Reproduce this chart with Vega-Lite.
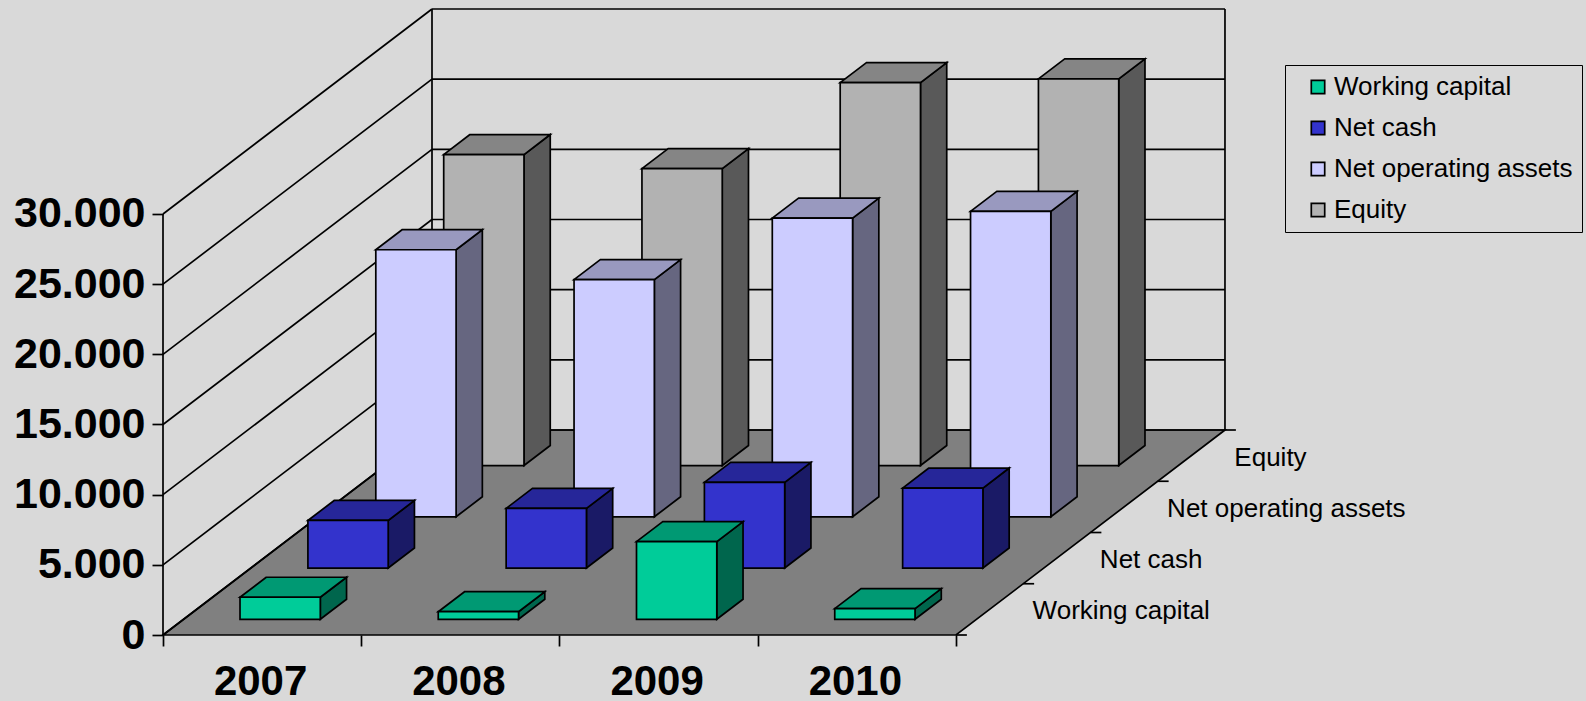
{"$schema":"https://vega.github.io/schema/vega-lite/v6.json","autosize":"none","width":1423,"height":635,"padding":{"left":163,"top":0,"right":0,"bottom":66},"background":"#d9d9d9","config":{"view":{"stroke":null},"font":"Liberation Sans"},
"datasets":{"levels":[{"level":0},{"level":5000},{"level":10000},{"level":15000},{"level":20000},{"level":25000},{"level":30000}],"depths":[{"d":0},{"d":0.25},{"d":0.5},{"d":0.75},{"d":1}],"corners":[{"u":0},{"u":4}]},
"data":{"values":[
{"year":2007,"series":"Working capital","value":1570},{"year":2008,"series":"Working capital","value":540},{"year":2009,"series":"Working capital","value":5530},{"year":2010,"series":"Working capital","value":760},
{"year":2007,"series":"Net cash","value":3390},{"year":2008,"series":"Net cash","value":4250},{"year":2009,"series":"Net cash","value":6100},{"year":2010,"series":"Net cash","value":5700},
{"year":2007,"series":"Net operating assets","value":19030},{"year":2008,"series":"Net operating assets","value":16900},{"year":2009,"series":"Net operating assets","value":21280},{"year":2010,"series":"Net operating assets","value":21760},
{"year":2007,"series":"Equity","value":22160},{"year":2008,"series":"Equity","value":21160},{"year":2009,"series":"Equity","value":27290},{"year":2010,"series":"Equity","value":27550}]},
"transform":[
{"calculate":"indexof(['Working capital','Net cash','Net operating assets','Equity'],datum.series)","as":"i"},
{"calculate":"datum.i*0.25+0.0766","as":"d0"},
{"calculate":"datum.year-2007+0.2835+datum.d0*1.37","as":"fx0"},
{"calculate":"datum.fx0+0.405","as":"fx1"},
{"calculate":"datum.d0*14607","as":"base"},
{"calculate":"datum.base+datum.value","as":"top"},
{"calculate":"0.0976*1.3569","as":"sx"},
{"calculate":"0.0976*14607","as":"sy"}],
"encoding":{
"x":{"field":"X","type":"quantitative","scale":{"domain":[0,7.178],"nice":false,"zero":false},"axis":{"title":null,"domain":false,"grid":false,"values":[0,0.5,1,1.5,2,2.5,3,3.5,4],"tickSize":11,"tickWidth":1.7,"tickColor":"#000","tickOpacity":{"condition":{"test":"datum.value % 1 == 0","value":1},"value":0},"labelExpr":"datum.value % 1 == 0.5 ? toString(2007+floor(datum.value)) : ''","labelFont":"Liberation Sans","labelFontSize":42,"labelFontWeight":"bold","labelColor":"#000","labelPadding":15,"labelOffset":-2,"labelOverlap":false,"labelFlush":false,"labelBound":false}},
"y":{"field":"Y","type":"quantitative","scale":{"domain":[0,45247],"nice":false,"zero":false},"axis":{"title":null,"domain":false,"grid":false,"values":[0,5000,10000,15000,20000,25000,30000],"tickSize":11,"tickWidth":1.7,"tickColor":"#000","labelExpr":"replace(format(datum.value,','),',','.')","labelFont":"Liberation Sans","labelFontSize":43,"labelFontWeight":"bold","labelColor":"#000","labelPadding":7,"labelOverlap":false,"labelFlush":false,"labelBound":false}}},
"layer":[
{"data":{"name":"corners"},"transform":[{"calculate":"[0,1]","as":"d"},{"flatten":["d"]},{"calculate":"datum.d*1.3569","as":"X"},{"calculate":"datum.X+4","as":"X2"},{"calculate":"datum.d*14607","as":"Y"},{"filter":"datum.u==0"}],"mark":{"type":"area","orient":"horizontal","fill":"#808080","stroke":"#000","strokeWidth":1.7},"encoding":{"x2":{"field":"X2"}}},
{"data":{"name":"levels"},"transform":[{"calculate":"0","as":"X"},{"calculate":"1.3569","as":"X2"},{"calculate":"datum.level","as":"Y"},{"calculate":"datum.level+14607","as":"Y2"}],"mark":{"type":"rule","stroke":"#000","strokeWidth":1.7},"encoding":{"x2":{"field":"X2"},"y2":{"field":"Y2"}}},
{"data":{"name":"levels"},"transform":[{"calculate":"1.3569","as":"X"},{"calculate":"5.3569","as":"X2"},{"calculate":"datum.level+14607","as":"Y"}],"mark":{"type":"rule","stroke":"#000","strokeWidth":1.7},"encoding":{"x2":{"field":"X2"}}},
{"data":{"name":"corners"},"transform":[{"calculate":"datum.u+1.3569","as":"X"},{"calculate":"14607","as":"Y"},{"calculate":"44607","as":"Y2"}],"mark":{"type":"rule","stroke":"#000","strokeWidth":1.7},"encoding":{"y2":{"field":"Y2"}}},
{"data":{"name":"corners"},"transform":[{"filter":"datum.u==0"},{"calculate":"0","as":"X"},{"calculate":"0","as":"Y"},{"calculate":"30000","as":"Y2"}],"mark":{"type":"rule","stroke":"#000","strokeWidth":1.7},"encoding":{"y2":{"field":"Y2"}}},
{"data":{"name":"depths"},"transform":[{"calculate":"4+datum.d*1.3569","as":"X"},{"calculate":"datum.X+0.055","as":"X2"},{"calculate":"datum.d*14607","as":"Y"}],"mark":{"type":"rule","stroke":"#000","strokeWidth":1.7},"encoding":{"x2":{"field":"X2"}}},
{"transform":[{"filter":"datum.year==2007"},{"calculate":"4+(datum.i+0.5)*0.25*1.3569","as":"X"},{"calculate":"(datum.i+0.5)*0.25*14607","as":"Y"}],"mark":{"type":"text","align":"left","baseline":"middle","dx":43,"dy":2,"fontSize":26,"font":"Liberation Sans","fill":"#000"},"encoding":{"text":{"field":"series"}}},

{"transform":[{"filter":"datum.series=='Equity'"},{"calculate":"[0,1]","as":"t"},{"flatten":["t"]},{"calculate":"datum.fx1+datum.t*datum.sx","as":"X"},{"calculate":"datum.base+datum.t*datum.sy","as":"Y"},{"calculate":"datum.top+datum.t*datum.sy","as":"Y2"}],"mark":{"type":"area","fill":"#595959","stroke":"#000","strokeWidth":1.7},"encoding":{"y2":{"field":"Y2"},"detail":{"field":"year"}}},
{"transform":[{"filter":"datum.series=='Equity'"},{"calculate":"[0,1]","as":"t"},{"flatten":["t"]},{"calculate":"datum.fx0+datum.t*datum.sx","as":"X"},{"calculate":"datum.fx1+datum.t*datum.sx","as":"X2"},{"calculate":"datum.top+datum.t*datum.sy","as":"Y"}],"mark":{"type":"area","orient":"horizontal","fill":"#858585","stroke":"#000","strokeWidth":1.7},"encoding":{"x2":{"field":"X2"},"detail":{"field":"year"}}},
{"transform":[{"filter":"datum.series=='Equity'"},{"calculate":"datum.fx0","as":"X"},{"calculate":"datum.fx1","as":"X2"},{"calculate":"datum.base","as":"Y"},{"calculate":"datum.top","as":"Y2"}],"mark":{"type":"rect","stroke":"#000","strokeWidth":1.7},"encoding":{"x2":{"field":"X2"},"y2":{"field":"Y2"},"color":{"field":"series","type":"nominal","scale":{"domain":["Working capital","Net cash","Net operating assets","Equity"],"range":["#00cc99","#3333cc","#ccccff","#b2b2b2"]},"legend":{"title":null,"orient":"none","legendX":1122,"legendY":65,"padding":9,"fillColor":"#d9d9d9","strokeColor":"#000","symbolType":"square","symbolSize":180,"symbolOffset":11,"symbolStrokeColor":"#000","symbolStrokeWidth":1.7,"labelFont":"Liberation Sans","labelFontSize":26,"labelColor":"#000","labelLimit":600,"labelOffset":3,"rowPadding":15}}}},

{"transform":[{"filter":"datum.series=='Net operating assets'"},{"calculate":"[0,1]","as":"t"},{"flatten":["t"]},{"calculate":"datum.fx1+datum.t*datum.sx","as":"X"},{"calculate":"datum.base+datum.t*datum.sy","as":"Y"},{"calculate":"datum.top+datum.t*datum.sy","as":"Y2"}],"mark":{"type":"area","fill":"#666680","stroke":"#000","strokeWidth":1.7},"encoding":{"y2":{"field":"Y2"},"detail":{"field":"year"}}},
{"transform":[{"filter":"datum.series=='Net operating assets'"},{"calculate":"[0,1]","as":"t"},{"flatten":["t"]},{"calculate":"datum.fx0+datum.t*datum.sx","as":"X"},{"calculate":"datum.fx1+datum.t*datum.sx","as":"X2"},{"calculate":"datum.top+datum.t*datum.sy","as":"Y"}],"mark":{"type":"area","orient":"horizontal","fill":"#9999bf","stroke":"#000","strokeWidth":1.7},"encoding":{"x2":{"field":"X2"},"detail":{"field":"year"}}},
{"transform":[{"filter":"datum.series=='Net operating assets'"},{"calculate":"datum.fx0","as":"X"},{"calculate":"datum.fx1","as":"X2"},{"calculate":"datum.base","as":"Y"},{"calculate":"datum.top","as":"Y2"}],"mark":{"type":"rect","stroke":"#000","strokeWidth":1.7},"encoding":{"x2":{"field":"X2"},"y2":{"field":"Y2"},"color":{"field":"series","type":"nominal"}}},

{"transform":[{"filter":"datum.series=='Net cash'"},{"calculate":"[0,1]","as":"t"},{"flatten":["t"]},{"calculate":"datum.fx1+datum.t*datum.sx","as":"X"},{"calculate":"datum.base+datum.t*datum.sy","as":"Y"},{"calculate":"datum.top+datum.t*datum.sy","as":"Y2"}],"mark":{"type":"area","fill":"#1a1a66","stroke":"#000","strokeWidth":1.7},"encoding":{"y2":{"field":"Y2"},"detail":{"field":"year"}}},
{"transform":[{"filter":"datum.series=='Net cash'"},{"calculate":"[0,1]","as":"t"},{"flatten":["t"]},{"calculate":"datum.fx0+datum.t*datum.sx","as":"X"},{"calculate":"datum.fx1+datum.t*datum.sx","as":"X2"},{"calculate":"datum.top+datum.t*datum.sy","as":"Y"}],"mark":{"type":"area","orient":"horizontal","fill":"#262699","stroke":"#000","strokeWidth":1.7},"encoding":{"x2":{"field":"X2"},"detail":{"field":"year"}}},
{"transform":[{"filter":"datum.series=='Net cash'"},{"calculate":"datum.fx0","as":"X"},{"calculate":"datum.fx1","as":"X2"},{"calculate":"datum.base","as":"Y"},{"calculate":"datum.top","as":"Y2"}],"mark":{"type":"rect","stroke":"#000","strokeWidth":1.7},"encoding":{"x2":{"field":"X2"},"y2":{"field":"Y2"},"color":{"field":"series","type":"nominal"}}},

{"transform":[{"filter":"datum.series=='Working capital'"},{"calculate":"[0,1]","as":"t"},{"flatten":["t"]},{"calculate":"datum.fx1+datum.t*datum.sx","as":"X"},{"calculate":"datum.base+datum.t*datum.sy","as":"Y"},{"calculate":"datum.top+datum.t*datum.sy","as":"Y2"}],"mark":{"type":"area","fill":"#00664d","stroke":"#000","strokeWidth":1.7},"encoding":{"y2":{"field":"Y2"},"detail":{"field":"year"}}},
{"transform":[{"filter":"datum.series=='Working capital'"},{"calculate":"[0,1]","as":"t"},{"flatten":["t"]},{"calculate":"datum.fx0+datum.t*datum.sx","as":"X"},{"calculate":"datum.fx1+datum.t*datum.sx","as":"X2"},{"calculate":"datum.top+datum.t*datum.sy","as":"Y"}],"mark":{"type":"area","orient":"horizontal","fill":"#009973","stroke":"#000","strokeWidth":1.7},"encoding":{"x2":{"field":"X2"},"detail":{"field":"year"}}},
{"transform":[{"filter":"datum.series=='Working capital'"},{"calculate":"datum.fx0","as":"X"},{"calculate":"datum.fx1","as":"X2"},{"calculate":"datum.base","as":"Y"},{"calculate":"datum.top","as":"Y2"}],"mark":{"type":"rect","stroke":"#000","strokeWidth":1.7},"encoding":{"x2":{"field":"X2"},"y2":{"field":"Y2"},"color":{"field":"series","type":"nominal"}}}
]}
